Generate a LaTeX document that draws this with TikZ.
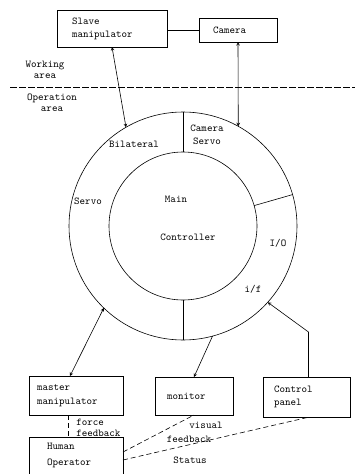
\documentclass[tikz,border=0pt]{standalone}
\usepackage{tikz}
\usetikzlibrary{shapes.geometric, arrows}
\tikzstyle{rec} = [rectangle, draw=black, align=left, outer sep=0pt, inner ysep=0pt]
\tikzstyle{disc} = [circle, draw=black, inner sep=0pt, outer sep=0pt]
\tikzstyle{lbl} = [align=center, inner sep=0pt, font=\fontsize{10.5}{11}\selectfont\ttfamily]
\tikzstyle{arrow} = [->,>=stealth]
\tikzstyle{darrow} = [<->,>=stealth]
\tikzstyle{dline} = [dash pattern=on 5pt off 3pt]

\begin{document}
\begin{tikzpicture}[x=1pt, y=-1pt, line width=0.6pt, font=\fontsize{10.5}{13}\selectfont\ttfamily]
        \useasboundingbox (0,0) rectangle (359,474);
        % working area
        \node (slave) [rec, minimum width=110pt, minimum height=37pt, text width=80pt, inner xsep=15pt] at (112,28.5) {Slave\\manipulator};
        \node (camera) [rec, minimum width=78pt, minimum height=24pt, text width=50pt, inner xsep=14pt] at (238,30) {Camera};
        \draw (camera.west) -- (camera.west -| slave.east);
        \node (work) [lbl] at (45,69.5) {Working\\area};
        \coordinate (sepl) at (10,87);
        \coordinate (sepr) at (355,87);
        \draw [dash pattern=on 7pt off 2pt] (sepl) -- (sepr);
        \node (oper) [lbl] at (52,102.5) {Operation\\area};
        % controller
        \node (ring) [disc, minimum size=228pt] at (183,226) {};
        \node (core) [disc, minimum size=148pt] at (183,226) {};
        \draw (core.90) -- (ring.90);
        \draw (core.16) -- (ring.16);
        \draw (core.270) -- (ring.270);
        \node (bilat) at (134,144) {Bilateral};
        \node (camservo) [align=center] at (207,134.5) {Camera\\Servo};
        \node (servo) at (88,201) {Servo};
        \node (main) at (176,199) {Main};
        \node (ctrl) at (188,237) {Controller};
        \node (io) at (278,243) {I/O};
        \node (intf) at (253,289) {i/f};
        \draw [darrow] (slave.south) -- (ring.120);
        \draw [darrow] (camera.south) -- (ring.61);
        % operation side
        \node (master) [rec, minimum width=94pt, minimum height=39pt, text width=78pt, inner xsep=8pt] at (76,395.5) {master\\[1pt]manipulator};
        \node (monitor) [rec, minimum width=78pt, minimum height=38pt, text width=54pt, inner xsep=12pt] at (194,396) {monitor};
        \node (control) [rec, minimum width=87pt, minimum height=40pt, text width=65pt, inner xsep=11pt] at (306.5,397) {Control\\panel};
        \node (human) [rec, minimum width=94pt, minimum height=37pt, text width=58pt, inner xsep=18pt] at (76,455.5) {Human\\[3pt]Operator};
        \draw [darrow] ([xshift=-6pt]master.north) -- (ring.226);
        \draw [arrow] (ring.285) -- (monitor.north);
        \draw [arrow] ([xshift=2pt]control.north) -- ++(0,-45) -- (ring.318);
        \draw [dline] ([xshift=-8pt]master.south) -- ([xshift=-8pt]human.north);
        \node (force) [lbl, align=left, anchor=west] at (76,427.5) {force\\feedback};
        \draw [dline] ([yshift=3.5pt]human.east) -- (monitor.south);
        \draw [dline] ([yshift=-4.5pt]human.east) -- ([xshift=3pt]control.south);
        \node (visual) at (206,425) {visual};
        \node (feedback) at (189,439) {feedback};
        \node (status) at (190,460) {Status};
    \end{tikzpicture}
\end{document}
